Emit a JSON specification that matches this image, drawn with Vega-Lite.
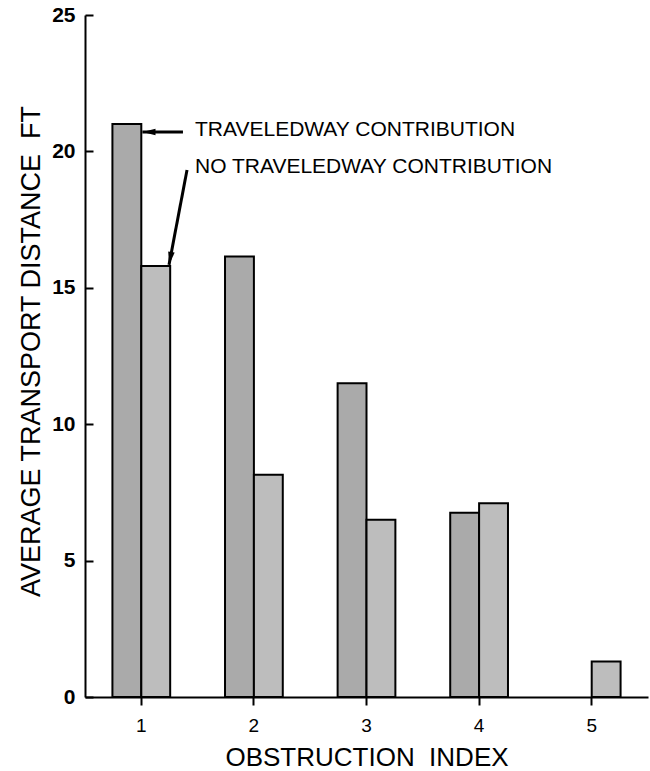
{
  "$schema": "https://vega.github.io/schema/vega-lite/v6.json",
  "width": 563,
  "height": 682,
  "autosize": {"type": "none"},
  "padding": {"left": 85, "top": 15, "right": 2, "bottom": 74},
  "background": "white",
  "config": {
    "view": {"stroke": null},
    "font": "Liberation Sans",
    "axis": {
      "domainColor": "black",
      "domainWidth": 2,
      "tickColor": "black",
      "tickWidth": 2,
      "labelColor": "black",
      "titleColor": "black",
      "grid": false,
      "labelFont": "Liberation Sans",
      "titleFont": "Liberation Sans",
      "titleFontWeight": "normal"
    }
  },
  "datasets": {
    "bars": [
      {"index": "1", "series": "Traveledway contribution", "distance": 21.0},
      {"index": "1", "series": "No traveledway contribution", "distance": 15.8},
      {"index": "2", "series": "Traveledway contribution", "distance": 16.15},
      {"index": "2", "series": "No traveledway contribution", "distance": 8.15},
      {"index": "3", "series": "Traveledway contribution", "distance": 11.5},
      {"index": "3", "series": "No traveledway contribution", "distance": 6.5},
      {"index": "4", "series": "Traveledway contribution", "distance": 6.75},
      {"index": "4", "series": "No traveledway contribution", "distance": 7.1},
      {"index": "5", "series": "No traveledway contribution", "distance": 1.3}
    ],
    "notes": [
      {"label": "TRAVELEDWAY CONTRIBUTION", "x": 1.477, "y": 20.78},
      {"label": "NO TRAVELEDWAY CONTRIBUTION", "x": 1.477, "y": 19.43}
    ],
    "arrow1": [
      {"x": 1.37, "y": 20.71, "xtip": 1.01, "ytip": 20.71}
    ],
    "arrow2": [
      {"x": 1.406, "y": 19.32, "xtip": 1.246, "ytip": 15.84}
    ]
  },
  "layer": [
    {
      "data": {"name": "bars"},
      "mark": {"type": "bar", "stroke": "black", "strokeWidth": 2},
      "encoding": {
        "x": {
          "field": "index",
          "type": "ordinal",
          "scale": {"paddingInner": 0.487, "paddingOuter": 0.2435},
          "axis": {
            "title": "OBSTRUCTION\u00a0\u00a0INDEX",
            "labelAngle": 0,
            "labelFontSize": 19,
            "tickSize": 8,
            "labelPadding": 11,
            "titleFontSize": 26,
            "titleBaseline": "middle",
            "titleY": 60
          }
        },
        "xOffset": {
          "field": "series",
          "type": "nominal",
          "scale": {"domain": ["Traveledway contribution", "No traveledway contribution"], "paddingInner": 0, "paddingOuter": 0}
        },
        "y": {
          "field": "distance",
          "type": "quantitative",
          "scale": {"domain": [0, 25], "nice": false},
          "axis": {
            "title": "AVERAGE TRANSPORT DISTANCE\u00a0\u00a0FT",
            "values": [0, 5, 10, 15, 20, 25],
            "tickSize": -8,
            "labelPadding": 18,
            "labelFontSize": 21,
            "labelFontWeight": "bold",
            "titleFontSize": 27,
            "titleBaseline": "middle",
            "titleX": -54,
            "titleY": 336
          }
        },
        "fill": {
          "field": "series",
          "type": "nominal",
          "scale": {"domain": ["Traveledway contribution", "No traveledway contribution"], "range": ["#aaaaaa", "#bdbdbd"]},
          "legend": null
        }
      }
    },
    {
      "data": {"name": "notes"},
      "mark": {"type": "text", "align": "left", "baseline": "middle", "fontSize": 21, "font": "Liberation Sans", "color": "black"},
      "encoding": {
        "x": {"field": "x", "type": "quantitative", "scale": {"domain": [0.5, 5.5], "nice": false, "zero": false}, "axis": null},
        "y": {"field": "y", "type": "quantitative", "title": "AVERAGE TRANSPORT DISTANCE\u00a0\u00a0FT"},
        "text": {"field": "label"}
      }
    },
    {
      "data": {"name": "arrow1"},
      "layer": [
        {
          "mark": {"type": "rule", "color": "black", "strokeWidth": 3},
          "encoding": {
            "x": {"field": "x", "type": "quantitative", "scale": {"domain": [0.5, 5.5], "nice": false, "zero": false}, "axis": null},
            "x2": {"field": "xtip"},
            "y": {"field": "y", "type": "quantitative", "title": "AVERAGE TRANSPORT DISTANCE\u00a0\u00a0FT"},
            "y2": {"field": "ytip"}
          }
        },
        {
          "mark": {"type": "point", "shape": "M0,0L0.35,1.4L-0.35,1.4Z", "filled": true, "color": "black", "opacity": 1, "size": 350, "angle": 270},
          "encoding": {
            "x": {"field": "xtip", "type": "quantitative", "scale": {"domain": [0.5, 5.5], "nice": false, "zero": false}, "axis": null},
            "y": {"field": "ytip", "type": "quantitative", "title": "AVERAGE TRANSPORT DISTANCE\u00a0\u00a0FT"}
          }
        }
      ]
    },
    {
      "data": {"name": "arrow2"},
      "layer": [
        {
          "mark": {"type": "rule", "color": "black", "strokeWidth": 3},
          "encoding": {
            "x": {"field": "x", "type": "quantitative", "scale": {"domain": [0.5, 5.5], "nice": false, "zero": false}, "axis": null},
            "x2": {"field": "xtip"},
            "y": {"field": "y", "type": "quantitative", "title": "AVERAGE TRANSPORT DISTANCE\u00a0\u00a0FT"},
            "y2": {"field": "ytip"}
          }
        },
        {
          "mark": {"type": "point", "shape": "M0,0L0.35,1.4L-0.35,1.4Z", "filled": true, "color": "black", "opacity": 1, "size": 350, "angle": 190.7},
          "encoding": {
            "x": {"field": "xtip", "type": "quantitative", "scale": {"domain": [0.5, 5.5], "nice": false, "zero": false}, "axis": null},
            "y": {"field": "ytip", "type": "quantitative", "title": "AVERAGE TRANSPORT DISTANCE\u00a0\u00a0FT"}
          }
        }
      ]
    }
  ],
  "resolve": {"scale": {"x": "independent"}}
}
